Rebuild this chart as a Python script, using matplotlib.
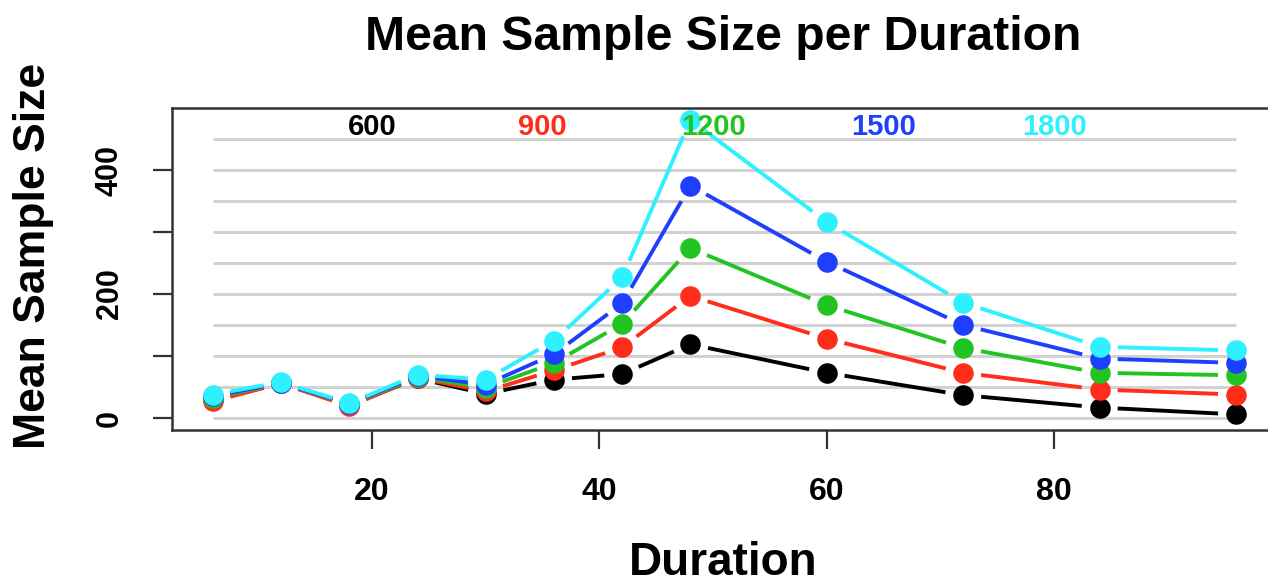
import numpy as np
import matplotlib
matplotlib.use("Agg")
import matplotlib.pyplot as plt

# ---- data ----
duration = [6, 12, 18, 24, 30, 36, 42, 48, 60, 72, 84, 96]
s600  = [30, 56, 21, 64, 39, 62, 71, 119, 73, 37, 17, 6]
s900  = [27, 56, 19, 65, 43, 77, 114, 197, 128, 73, 46, 38]
s1200 = [32, 57, 22, 66, 49, 89, 152, 274, 182, 113, 73, 69]
s1500 = [35, 57, 23, 68, 54, 103, 185, 375, 252, 150, 96, 89]
s1800 = [38, 58, 24, 70, 62, 125, 227, 481, 316, 186, 115, 109]
series_names = ["600", "900", "1200", "1500", "1800"]
label_x = [20, 35, 50, 65, 80]
label_y = 470
colors = ["#000000", "#ff2d1a", "#22c422", "#1f3fff", "#2ef0ff"]
grid_vals = list(range(0, 451, 50))
yticks = [0, 100, 200, 300, 400]
ytick_labels = ["0", "", "200", "", "400"]
xticks = [20, 40, 60, 80]

plt.rcParams['font.family'] = ['Liberation Sans', 'DejaVu Sans']

W, H = 1268, 588
fig = plt.figure(figsize=(W / 100, H / 100), dpi=100)
ax = fig.add_axes([172 / W, 1 - 430 / H, (1277 - 172) / W, (430 - 108) / H])
ax.set_xlim(2.4, 99.6)
ax.set_ylim(-19.2, 500)

# grid lines
ax.hlines(grid_vals, duration[0], duration[-1], colors="#d2d2d2", lw=2.2, zorder=1)

# lines with gaps (type="b")
trans = ax.transData
inv = trans.inverted()
gap = 18.0
all_series = [s600, s900, s1200, s1500, s1800]
for k, (ys, c) in enumerate(zip(all_series, colors)):
    pts = trans.transform(np.column_stack([duration, ys]))
    for i in range(len(pts) - 1):
        p0, p1 = pts[i], pts[i + 1]
        d = p1 - p0
        L = np.hypot(d[0], d[1])
        if L > 2 * gap:
            u = d / L
            seg = inv.transform(np.array([p0 + u * gap, p1 - u * gap]))
            ax.plot(seg[:, 0], seg[:, 1], color=c, lw=2.8,
                    solid_capstyle='butt', zorder=2 + 2 * k)
    ax.plot(duration, ys, 'o', color=c, ms=14.8, mec=c, mew=0,
            zorder=3 + 2 * k, clip_on=False)

for nm, lx, c in zip(series_names, label_x, colors):
    ax.text(lx, label_y, nm, color=c, ha='center', va='center',
            fontsize=21, fontweight='bold', zorder=20)

# axes styling
for side in ['left', 'top', 'bottom']:
    ax.spines[side].set_color('#333333')
    ax.spines[side].set_linewidth(1.8)
ax.spines['right'].set_visible(False)

ax.set_xticks(xticks)
ax.set_xticklabels([str(v) for v in xticks], fontsize=23, fontweight='bold')
ax.set_yticks(yticks)
ax.set_yticklabels(ytick_labels, fontsize=22, fontweight='bold',
                   rotation=90, va='center')
ax.tick_params(axis='both', direction='out', length=14, width=1.6,
               color='#333333')
ax.tick_params(axis='x', pad=20)
ax.tick_params(axis='y', pad=20)

fig.text(723 / W, 1 - 50 / H, "Mean Sample Size per Duration", ha='center',
         va='baseline', fontsize=34.7, fontweight='bold')
fig.text(723 / W, 1 - 575 / H, "Duration", ha='center', va='baseline',
         fontsize=33, fontweight='bold')
fig.text(34 / W, 1 - 256 / H, "Mean Sample Size", ha='center', va='center',
         rotation=90, fontsize=32, fontweight='bold')

fig.savefig("out.png", dpi=100)
